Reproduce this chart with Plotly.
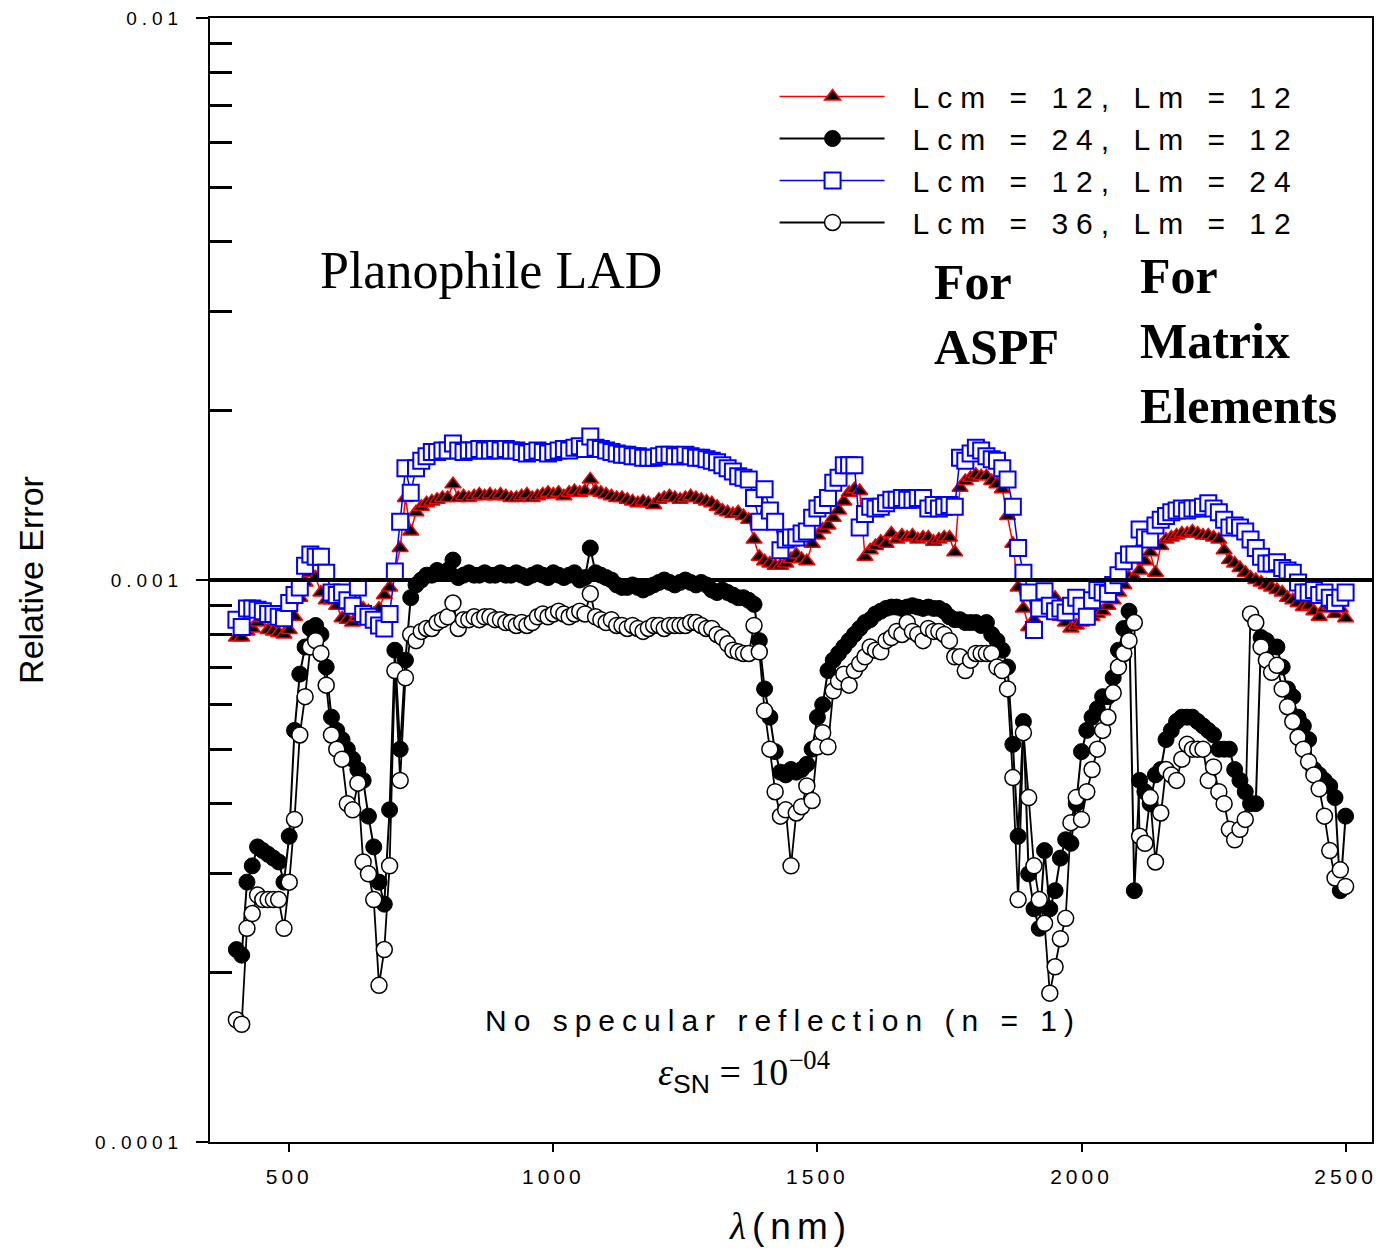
import plotly.graph_objects as go

# Wavelength grid (nm), 10 nm sampling
wavelength_nm = list(range(400, 2501, 10))

# Relative error, in units of 1e-4
err_lcm12_lm12 = [
    7.9, 7.9, 8.1, 8.2, 8.4, 8.55, 8.15, 8.1, 8.05, 8.0,
    8.15, 8.6, 9.3, 9.9, 10.3, 10.1, 9.5, 9.2, 9.2, 9.0,
    8.55, 8.5, 8.4, 8.6, 8.9, 8.8, 8.7, 8.9, 9.4, 9.7,
    10.3, 11.4, 14.0, 12.2, 13.2, 13.5, 13.7, 13.8, 13.9, 14.0,
    14.0, 14.8, 14.0, 14.1, 14.0, 14.1, 14.2, 14.1, 14.2, 14.1,
    14.2, 14.1, 14.0, 14.0, 14.1, 14.2, 14.0, 14.1, 14.2, 14.3,
    14.2, 14.3, 14.1, 14.3, 14.4, 14.3, 14.4, 15.1, 14.4, 14.3,
    14.2, 14.1, 14.0, 14.0, 13.9, 13.8, 13.7, 13.8, 13.7, 13.6,
    13.9, 14.0, 14.1, 14.0, 13.9, 14.0, 14.1, 14.0, 13.9, 13.8,
    13.7, 13.5, 13.3, 13.2, 13.1, 13.2, 13.0, 12.8, 11.8, 11.0,
    10.8, 10.7, 10.6, 10.6, 10.7, 10.9, 11.1, 10.9, 10.8, 11.6,
    12.0, 12.3, 12.5, 12.9, 13.3, 13.8, 14.3, 14.5, 14.4, 11.0,
    11.3, 11.5, 11.7, 11.6, 12.1, 11.8, 12.0, 11.9, 12.0, 11.8,
    11.9, 11.9, 11.7, 11.8, 11.9, 11.9, 11.2, 14.6, 15.0, 15.2,
    15.4, 15.3, 15.3, 15.0, 14.8, 14.5, 13.0, 11.6, 9.7, 8.9,
    8.25, 8.5, 8.8, 9.2, 9.1, 9.3, 8.6, 8.4, 8.2, 8.3,
    8.4, 8.5, 8.6, 8.7, 8.8, 9.0, 9.2, 9.5, 9.8, 10.1,
    10.1, 10.4, 10.8, 11.2, 10.3, 11.5, 11.8, 11.9, 12.0, 12.1,
    12.1, 12.2, 12.1, 12.0, 12.0, 11.9, 11.8, 11.3, 10.85, 10.7,
    10.5, 10.3, 10.1, 10.0, 9.9, 9.8, 9.7, 9.6, 9.5, 9.3,
    9.2, 9.1, 8.95, 9.0, 8.8, 8.6, 8.9, 9.0, 8.7, 8.9,
    8.55,
]

err_lcm24_lm12 = [
    2.2, 2.15, 2.9, 3.1, 3.35, 3.3, 3.25, 3.2, 3.15, 2.9,
    3.5, 5.4, 6.8, 7.6, 8.2, 8.3, 8.0, 7.0, 5.7, 5.4,
    5.2, 5.0, 4.8, 4.6, 4.4, 3.8, 3.35, 2.9, 2.65, 3.9,
    7.5, 5.0, 7.2, 9.3, 9.8, 10.0, 10.2, 10.2, 10.4, 10.3,
    10.4, 10.85, 10.1, 10.2, 10.3, 10.2, 10.2, 10.3, 10.2, 10.2,
    10.3, 10.2, 10.2, 10.3, 10.2, 10.1, 10.2, 10.3, 10.2, 10.1,
    10.3, 10.2, 10.1, 10.2, 10.3, 10.0, 10.1, 11.4, 10.3, 10.2,
    10.1, 10.0, 9.8, 9.7, 9.7, 9.8, 9.7, 9.6, 9.7, 9.8,
    9.9, 10.0, 9.9, 9.8, 9.9, 10.0, 9.9, 9.8, 9.9, 9.8,
    9.6, 9.5, 9.6, 9.5, 9.4, 9.3, 9.3, 9.2, 9.05, 7.8,
    6.4, 5.7, 4.95, 4.55, 4.5, 4.6, 4.55, 4.6, 4.7, 5.0,
    5.7, 6.0, 6.9, 7.2, 7.4, 7.6, 7.8, 8.0, 8.2, 8.4,
    8.5, 8.7, 8.8, 8.9, 8.95, 8.95, 8.9, 8.95, 9.0, 8.95,
    8.9, 8.95, 8.9, 8.9, 8.8, 8.6, 8.5, 8.5, 8.4, 8.4,
    8.4, 8.3, 8.4, 8.0, 7.8, 7.5, 7.0, 5.1, 3.5, 5.6,
    3.0, 2.6, 2.4, 3.3, 2.6, 2.8, 3.2, 3.45, 3.4, 4.0,
    4.95, 5.4, 5.7, 5.9, 6.2, 6.2, 6.7, 7.5, 8.2, 8.8,
    2.8, 4.4, 4.2, 4.0, 4.5, 4.6, 5.2, 5.4, 5.6, 5.7,
    5.7, 5.7, 5.6, 5.5, 5.4, 5.3, 5.0, 5.0, 5.0, 4.6,
    4.4, 4.2, 4.0, 4.0, 7.9, 7.8, 7.6, 7.6, 7.0, 6.4,
    6.2, 5.7, 5.5, 5.2, 4.6, 4.5, 4.4, 4.3, 4.1, 2.8,
    3.8,
]

err_lcm12_lm24 = [
    8.5, 8.25, 8.9, 8.9, 8.85, 8.8, 8.7, 8.7, 8.6, 8.55,
    9.1, 9.4, 9.7, 10.6, 11.1, 11.0, 11.0, 10.3, 9.5, 9.4,
    9.5, 9.2, 9.0, 9.7, 8.7, 8.6, 8.5, 8.3, 8.2, 8.7,
    10.35, 12.7, 15.8, 14.3, 15.8, 16.3, 16.6, 16.9, 16.9, 17.0,
    17.0, 17.5, 17.0, 16.9, 17.0, 17.0, 17.1, 17.0, 17.0, 17.1,
    17.0, 17.1, 17.0, 17.0, 16.9, 16.8, 16.9, 17.0, 16.9, 16.8,
    16.9, 17.0, 17.1, 17.0, 17.2, 17.3, 17.1, 18.0, 17.2, 17.1,
    17.0, 16.9, 16.8, 16.7, 16.7, 16.6, 16.6, 16.5, 16.5, 16.5,
    16.6, 16.7, 16.7, 16.6, 16.6, 16.7, 16.6, 16.5, 16.5, 16.4,
    16.3, 16.2, 16.0, 15.8, 15.6, 15.3, 15.2, 15.1, 14.0, 12.7,
    14.5, 13.3, 12.7, 11.3, 11.8, 11.9, 11.9, 12.1, 12.2, 12.9,
    13.4, 13.6, 14.0, 14.9, 15.2, 16.0, 16.0, 16.0, 12.4, 13.1,
    13.5, 13.4, 13.5, 13.7, 13.9, 13.9, 14.0, 13.9, 13.9, 14.0,
    14.0, 13.4, 13.6, 13.4, 13.5, 13.6, 13.5, 16.5, 16.3, 16.8,
    17.2, 17.0, 16.6, 16.4, 16.3, 15.8, 15.1, 13.5, 11.4, 10.3,
    9.5, 8.15, 8.9, 9.55, 9.0, 8.8, 8.9, 8.75, 9.0, 9.3,
    9.0, 8.6, 9.2, 9.6, 9.5, 9.45, 9.8, 10.2, 10.8, 11.1,
    11.1, 12.3, 11.9, 11.8, 12.5, 12.8, 13.0, 13.2, 13.3, 13.4,
    13.3, 13.4, 13.4, 13.5, 13.7, 13.4, 13.2, 12.8, 12.4, 12.5,
    12.4, 12.2, 11.8, 11.4, 11.0, 10.7, 10.7, 10.75, 10.5, 10.4,
    10.3, 9.9, 9.5, 9.5, 9.6, 9.4, 9.5, 9.3, 9.1, 9.3,
    9.5,
]

err_lcm36_lm12 = [
    1.65, 1.62, 2.4, 2.55, 2.75, 2.7, 2.7, 2.7, 2.7, 2.4,
    2.9, 3.75, 5.3, 6.2, 7.6, 7.8, 7.4, 6.5, 5.3, 5.0,
    4.8, 4.0, 3.9, 4.35, 3.15, 3.0, 2.7, 1.9, 2.2, 3.1,
    6.9, 4.4, 6.7, 8.0, 7.8, 8.1, 8.2, 8.2, 8.4, 8.5,
    8.6, 9.1, 8.2, 8.5, 8.5, 8.6, 8.5, 8.6, 8.6, 8.5,
    8.5, 8.4, 8.4, 8.3, 8.4, 8.3, 8.4, 8.6, 8.7, 8.6,
    8.7, 8.8, 8.7, 8.6, 8.7, 8.8, 8.7, 9.45, 8.6, 8.5,
    8.4, 8.5, 8.3, 8.3, 8.2, 8.3, 8.2, 8.1, 8.2, 8.3,
    8.3, 8.2, 8.3, 8.3, 8.3, 8.3, 8.4, 8.4, 8.3, 8.2,
    8.2, 8.0, 7.9, 7.7, 7.5, 7.45, 7.4, 7.4, 8.3, 7.45,
    5.85, 5.0, 4.2, 3.8, 3.9, 3.1, 3.85, 3.95, 4.3, 4.05,
    5.05, 5.35, 5.05, 6.35, 6.6, 6.8, 6.5, 6.9, 7.1, 7.3,
    7.6, 7.5, 7.45, 7.8, 7.9, 8.1, 8.0, 8.4, 8.1, 8.0,
    7.8, 8.2, 8.1, 8.1, 8.0, 7.8, 7.3, 7.3, 6.9, 7.2,
    7.4, 7.4, 7.4, 7.4, 7.0, 6.9, 6.4, 4.45, 2.7, 5.35,
    4.1, 3.1, 2.7, 2.45, 1.84, 2.05, 2.3, 2.5, 3.7, 4.1,
    3.75, 4.2, 4.6, 5.0, 5.4, 5.7, 6.3, 7.0, 7.4, 7.8,
    8.4, 3.5, 3.4, 4.1, 3.15, 3.85, 4.6, 4.5, 4.4, 4.8,
    5.1, 5.0, 5.0, 5.0, 4.4, 4.65, 4.2, 4.0, 3.6, 3.45,
    3.6, 3.75, 8.7, 8.4, 7.6, 7.2, 6.85, 7.05, 6.4, 5.95,
    5.6, 5.25, 5.0, 4.75, 4.5, 4.25, 3.8, 3.3, 2.95, 3.05,
    2.85,
]

series_labels = [
    "Lcm = 12, Lm = 12",
    "Lcm = 24, Lm = 12",
    "Lcm = 12, Lm = 24",
    "Lcm = 36, Lm = 12",
]

x_tick_values = [500, 1000, 1500, 2000, 2500]
y_tick_values = [1e-4, 1e-3, 1e-2]
y_tick_labels = ["0.0001", "0.001", "0.01"]
reference_level = 1e-3

SANS = "Liberation Sans, Arial, sans-serif"
SERIF = "Liberation Serif, Times New Roman, serif"
UNIT = 1e-4


def scaled(values):
    return [v * UNIT for v in values]


styles = [
    dict(data=err_lcm12_lm12, line=dict(color="#ff0000", width=1.5),
         marker=dict(symbol="triangle-up", size=14, color="#000000",
                     line=dict(color="#ff0000", width=1.5))),
    dict(data=err_lcm24_lm12, line=dict(color="#000000", width=2),
         marker=dict(symbol="circle", size=16, color="#000000",
                     line=dict(color="#000000", width=1))),
    dict(data=err_lcm12_lm24, line=dict(color="#0000ff", width=1.5),
         marker=dict(symbol="square", size=16, color="#ffffff",
                     line=dict(color="#0000ff", width=2))),
    dict(data=err_lcm36_lm12, line=dict(color="#000000", width=1.8),
         marker=dict(symbol="circle", size=16, color="#ffffff",
                     line=dict(color="#000000", width=1.5))),
]

fig = go.Figure()
for label, st in zip(series_labels, styles):
    fig.add_trace(go.Scatter(
        x=wavelength_nm, y=scaled(st["data"]), name=label,
        mode="lines+markers", line=st["line"], marker=st["marker"],
    ))

# 10^-3 reference line across the plotting area
fig.add_shape(type="line", xref="paper", x0=0, x1=1, yref="y",
              y0=reference_level, y1=reference_level,
              line=dict(color="#000000", width=4), layer="above")

minor_vals = [m * 10.0 ** e for e in (-4, -3) for m in range(2, 10)]

fig.update_layout(
    width=1379, height=1253,
    margin=dict(l=210, r=5, t=18, b=111),
    paper_bgcolor="#ffffff", plot_bgcolor="#ffffff",
    font=dict(family=SANS, color="#000000"),
    showlegend=True,
    legend=dict(
        x=0.5702, xanchor="left", y=0.9533, yanchor="top",
        font=dict(family=SANS, size=30, color="#000000"),
        bgcolor="rgba(0,0,0,0)", borderwidth=0, tracegroupgap=0,
    ),
    xaxis=dict(
        type="linear", range=[350, 2550],
        tickvals=x_tick_values, ticks="outside", ticklen=8, tickwidth=1.5,
        tickcolor="#000000", tickfont=dict(family=SANS, size=21),
        ticklabelstandoff=7,
        showline=True, linecolor="#000000", linewidth=2, mirror=True,
        showgrid=False, zeroline=False,
        title=dict(
            text="<span style='font-family:Liberation Serif'><i>λ</i></span>(nm)",
            font=dict(family=SANS, size=37), standoff=26,
        ),
    ),
    yaxis=dict(
        type="log", range=[-4, -2],
        tickvals=y_tick_values, ticktext=y_tick_labels,
        ticks="outside", ticklen=12, tickwidth=1.5, tickcolor="#000000",
        tickfont=dict(family=SANS, size=19), ticklabelstandoff=9,
        minor=dict(tickvals=minor_vals, ticks="inside", ticklen=22,
                   tickwidth=3, tickcolor="#000000", showgrid=False),
        showline=True, linecolor="#000000", linewidth=2, mirror=True,
        showgrid=False, zeroline=False,
        title=dict(text="Relative Error", font=dict(family=SANS, size=34),
                   standoff=71),
    ),
)

fig.add_annotation(xref="paper", yref="paper", x=0.2414, y=0.7758,
                   text="Planophile LAD", showarrow=False,
                   font=dict(family=SERIF, size=52), xanchor="center",
                   yanchor="middle")
fig.add_annotation(xref="paper", yref="paper", x=0.6211, y=0.7358,
                   text="<b>For<br>ASPF</b>", showarrow=False, align="left",
                   font=dict(family=SERIF, size=50), xanchor="left",
                   yanchor="middle")
fig.add_annotation(xref="paper", yref="paper", x=0.799, y=0.7126,
                   text="<b>For<br>Matrix<br>Elements</b>", showarrow=False,
                   align="left", font=dict(family=SERIF, size=50),
                   xanchor="left", yanchor="middle")
fig.add_annotation(xref="paper", yref="paper", x=0.4931, y=0.1085,
                   text="No specular reflection (n = 1)", showarrow=False,
                   font=dict(family=SANS, size=30), xanchor="center",
                   yanchor="middle")
fig.add_annotation(xref="paper", yref="paper", x=0.4596, y=0.0623,
                   text=("<i>ε</i><sub><span style='font-family:Liberation Sans'>SN</span></sub>"
                         " = 10<sup>−04</sup>"),
                   showarrow=False, font=dict(family=SERIF, size=38),
                   xanchor="center", yanchor="middle")

# Wide letter spacing for the sans-serif labels, and long legend samples
# (line running left of the marker, label text kept where it is)
style_js = """
var gd = document.getElementById('{plot_id}');
function restyleText() {
  var rules = [
    ['.legendtext', '8px'],
    ['.xtick text', '4px'],
    ['.ytick text', '5px'],
    ['.g-xtitle text', '6px']
  ];
  rules.forEach(function (r) {
    gd.querySelectorAll(r[0]).forEach(function (el) {
      el.style.letterSpacing = r[1];
    });
  });
  gd.querySelectorAll('.annotation-text').forEach(function (el) {
    if (el.textContent.indexOf('No specular') === 0) {
      el.style.letterSpacing = '7px';
    }
  });
  gd.querySelectorAll('.legend [clip-path]').forEach(function (el) {
    el.removeAttribute('clip-path');
  });
  gd.querySelectorAll('.legend .legendlines path').forEach(function (el) {
    el.setAttribute('d', 'M-93,0h105');
  });
  gd.querySelectorAll('.legend .legendpoints path').forEach(function (el) {
    el.setAttribute('transform', 'translate(-40,0)');
  });
}
restyleText();
gd.on('plotly_afterplot', restyleText);
"""

fig.write_html("out.html", post_script=style_js)
